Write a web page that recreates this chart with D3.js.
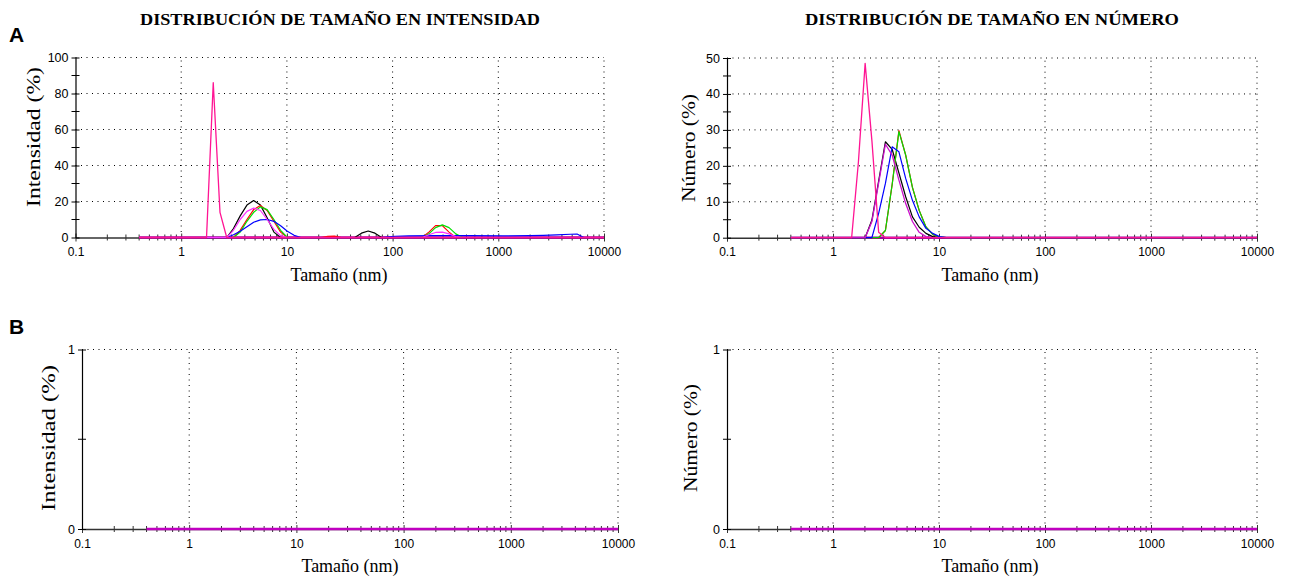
<!DOCTYPE html>
<html><head><meta charset="utf-8">
<script src="https://cdn.jsdelivr.net/npm/d3@7"></script>
<style>
html,body{margin:0;padding:0;background:#fff;}
svg{display:block;}
</style></head>
<body>
<svg id="c" width="1291" height="576"></svg>
<script>
// ---------- DATA ----------
const xTickValues = [0.1, 1, 10, 100, 1000, 10000];
const xTickLabels = ["0.1", "1", "10", "100", "1000", "10000"];

const intensityYMajor = [0, 20, 40, 60, 80, 100];
const intensityYMinor = [10, 30, 50, 70, 90];
const numberYMajor = [0, 10, 20, 30, 40, 50];
const numberYMinor = [5, 15, 25, 35, 45];
const emptyYMajor = [0, 1];
const emptyYMinor = [0.5];

// Intensity distribution (size nm, %)
const intBaseline = [[0.4,0],[10000,0]];
const intBlack = [[0.4,0],[2.696,0],[3.122,5],[3.615,12],[4.187,18],[4.849,20.5],[5.615,18],[6.503,11],[7.531,3],[8.721,0],[43.82,0],[50.75,2.4],[58.77,3.6],[68.06,2.4],[78.82,0],[10000,0]];
const intRed = [[0.4,0],[3.122,0],[3.615,4],[4.187,10],[4.849,15.5],[5.615,17.8],[6.503,15],[7.531,9],[8.721,3],[10.1,0],[21.04,0],[24.36,0.6],[28.21,0.8],[32.67,0],[190.1,0],[220.2,3],[255,6.6],[295.3,6.6],[342,3],[396.1,0],[10000,0]];
const intGreen = [[0.4,0],[3.122,0],[3.615,3],[4.187,9],[4.849,14],[5.615,17],[6.503,15.5],[7.531,10],[8.721,4],[10.1,0],[190.1,0],[220.2,2],[255,5.5],[295.3,7],[342,5.5],[396.1,2],[458.7,0],[10000,0]];
const intBlue = [[0.4,0],[2.696,0],[3.122,1.5],[3.615,3.5],[4.187,6],[4.849,8.5],[5.615,9.8],[6.503,10],[7.531,9],[8.721,6.5],[10.1,3.5],[11.7,1.2],[13.54,0],[78.82,0],[91.28,0.4],[105.7,0.7],[141.8,0.9],[255,1],[531.2,1],[1106,0.9],[1990,1],[2669,1.2],[3580,1.5],[4801,1.8],[5560,1.9],[6439,0],[10000,0]];
const intMagenta = [[0.4,0],[2.696,0],[3.122,4],[3.615,10],[4.187,14.5],[4.849,16.3],[5.615,15],[6.503,10],[7.531,4.5],[8.721,1],[10.1,0],[190.1,0],[220.2,1.5],[255,2.8],[295.3,3],[342,2],[396.1,0.5],[458.7,0],[10000,0]];
const intPink = [[0.4,0],[1.736,0],[2.01,86],[2.328,14],[2.696,0],[10000,0]];

// Number distribution (size nm, %)
const numBaseline = [[0.4,0],[10000,0]];
const numBlack = [[0.4,0],[2.01,0],[2.328,4.9],[3.122,26.7],[3.615,24.6],[4.187,18],[4.849,11.4],[5.615,5.8],[6.503,2.9],[7.531,1.2],[8.721,0.3],[10.1,0],[10000,0]];
const numRed = [[0.4,0],[2.696,0],[3.122,2],[3.615,14.8],[4.187,29.8],[4.849,23],[5.615,14],[6.503,7.6],[7.531,3],[8.721,0.9],[10.1,0.2],[11.7,0],[10000,0]];
const numGreen = [[0.4,0],[2.696,0],[3.122,2],[3.615,14.8],[4.187,29.5],[4.849,23],[5.615,14],[6.503,7.6],[7.531,3],[8.721,0.9],[10.1,0.2],[11.7,0],[10000,0]];
const numBlue = [[0.4,0],[2.328,0],[2.696,6.8],[3.122,15.1],[3.615,25.3],[4.187,23.9],[4.849,16.5],[5.615,10.4],[6.503,5.8],[7.531,2.6],[8.721,1.2],[10.1,0.3],[11.7,0],[10000,0]];
const numMagenta = [[0.4,0],[2.01,0],[2.328,4.5],[3.122,26],[3.615,23],[4.187,16],[4.849,9.5],[5.615,4.5],[6.503,1.5],[7.531,0.3],[8.721,0],[10000,0]];
const numPink = [[0.4,0],[1.499,0],[1.736,21],[2.01,48.5],[2.328,27],[2.696,1.5],[3.122,0],[10000,0]];

// Empty (panel B)
const emptyBaseline = [[0.4,0],[10000,0]];

const titles = ["DISTRIBUCIÓN DE TAMAÑO EN INTENSIDAD", "DISTRIBUCIÓN DE TAMAÑO EN NÚMERO"];
const yLabels = ["Intensidad (%)", "Número (%)"];
const xLabel = "Tamaño (nm)";
const panelLetters = ["A", "B"];

// ---------- DRAW ----------
const svg = d3.select("#c");
const SERIF = "'Liberation Serif','Times New Roman',serif";
const SANS = "'Liberation Sans',Arial,sans-serif";

function series(arr, color, width) { return {data: arr, color, width}; }

const panels = [
  {L:75.5, R:604, B:237.5, T:57.5, ymax:100, major:intensityYMajor, minor:intensityYMinor, ylab:yLabels[0], ylx:33, yly:137, ylen:140, xlx:339, xly:281,
   series:[series(intBaseline,"#a000a0",2.5), series(intBlack,"#000",1.2), series(intRed,"#ff0000",1.2), series(intGreen,"#00e000",1.2), series(intBlue,"#0000ff",1.2), series(intMagenta,"#ff30ff",1.2), series(intPink,"#ff1493",1.3)]},
  {L:727, R:1257, B:237.7, T:58, ymax:50, major:numberYMajor, minor:numberYMinor, ylab:yLabels[1], ylx:688, yly:148, ylen:108, xlx:990, xly:281,
   series:[series(numBaseline,"#a000a0",2.5), series(numBlack,"#000",1.2), series(numRed,"#ff0000",1.2), series(numGreen,"#00dd00",1.2), series(numBlue,"#0000ff",1.2), series(numMagenta,"#cc10cc",1.3), series(numPink,"#ff1493",1.3)]},
  {L:82, R:618, B:529, T:349.5, ymax:1, major:emptyYMajor, minor:emptyYMinor, ylab:yLabels[0], ylx:48, yly:438, ylen:146, xlx:350, xly:572,
   series:[series(emptyBaseline,"#c000c0",2.5)]},
  {L:727, R:1257, B:529, T:349.5, ymax:1, major:emptyYMajor, minor:emptyYMinor, ylab:yLabels[1], ylx:690, yly:438, ylen:108, xlx:990, xly:572,
   series:[series(emptyBaseline,"#c000c0",2.5)]}
];

const minorX = [];
[0.1, 1, 10, 100, 1000].forEach(d => { for (let k = 2; k <= 9; k++) minorX.push(+(d*k).toPrecision(3)); });

panels.forEach(p => {
  const x = d3.scaleLog().domain([0.1, 10000]).range([p.L, p.R]);
  const y = d3.scaleLinear().domain([0, p.ymax]).range([p.B, p.T]);
  const g = svg.append("g");

  // grid
  g.selectAll(".hg").data(p.major.filter(v => v > 0)).join("line")
    .attr("x1", p.L).attr("x2", p.R).attr("y1", d => y(d)).attr("y2", d => y(d))
    .attr("stroke", "#000").attr("stroke-width", 1).attr("stroke-dasharray", "1,4.5");
  g.selectAll(".vg").data(xTickValues.filter(v => v > 0.1)).join("line")
    .attr("x1", d => x(d)).attr("x2", d => x(d)).attr("y1", p.B).attr("y2", p.T)
    .attr("stroke", "#000").attr("stroke-width", 1).attr("stroke-dasharray", "1,4.5");

  // x axis
  const xAxis = d3.axisBottom(x).tickValues(xTickValues).tickFormat((d, i) => xTickLabels[i]).tickSizeInner(4).tickSizeOuter(0).tickPadding(6);
  const xa = g.append("g").attr("transform", `translate(0,${p.B})`).call(xAxis);
  xa.select(".domain").attr("stroke", "#333").attr("stroke-width", 1.5);
  xa.selectAll(".tick line").attr("y1", -4).attr("y2", 4).attr("stroke", "#333");
  xa.selectAll("text").attr("font-family", SANS).attr("font-size", 12).attr("fill", "#000");
  g.selectAll(".mx").data(minorX).join("line")
    .attr("x1", d => x(d)).attr("x2", d => x(d)).attr("y1", p.B - 3).attr("y2", p.B + 3)
    .attr("stroke", "#333").attr("stroke-width", 1);

  // y axis
  const yAxis = d3.axisLeft(y).tickValues(p.major).tickFormat(d3.format("d")).tickSizeInner(4).tickSizeOuter(0).tickPadding(3);
  const ya = g.append("g").attr("transform", `translate(${p.L},0)`).call(yAxis);
  ya.select(".domain").attr("stroke", "#000").attr("stroke-width", 1.2);
  ya.selectAll(".tick line").attr("x1", -4).attr("x2", 4).attr("stroke", "#000");
  ya.selectAll("text").attr("font-family", SANS).attr("font-size", 12.5).attr("fill", "#000");
  g.selectAll(".my").data(p.minor).join("line")
    .attr("x1", p.L - 4).attr("x2", p.L + 4).attr("y1", d => y(d)).attr("y2", d => y(d))
    .attr("stroke", "#000").attr("stroke-width", 1);

  // series
  const line = d3.line().x(d => x(d[0])).y(d => y(d[1]));
  p.series.forEach(s => {
    g.append("path").attr("d", line(s.data)).attr("fill", "none")
      .attr("stroke", s.color).attr("stroke-width", s.width).attr("stroke-linejoin", "round");
  });

  // labels
  g.append("text").attr("transform", `translate(${p.ylx},${p.yly}) rotate(-90)`)
    .attr("text-anchor", "middle").attr("dominant-baseline", "central")
    .attr("font-family", SERIF).attr("font-size", 19)
    .attr("textLength", p.ylen).attr("lengthAdjust", "spacingAndGlyphs")
    .text(p.ylab);
  g.append("text").attr("x", p.xlx).attr("y", p.xly).attr("text-anchor", "middle")
    .attr("font-family", SERIF).attr("font-size", 18).text(xLabel);
});

svg.append("text").attr("x", 340).attr("y", 25).attr("text-anchor", "middle")
  .attr("font-family", SERIF).attr("font-weight", "bold").attr("font-size", 17)
  .attr("textLength", 400).attr("lengthAdjust", "spacingAndGlyphs").text(titles[0]);
svg.append("text").attr("x", 992).attr("y", 25).attr("text-anchor", "middle")
  .attr("font-family", SERIF).attr("font-weight", "bold").attr("font-size", 17)
  .attr("textLength", 374).attr("lengthAdjust", "spacingAndGlyphs").text(titles[1]);
svg.append("text").attr("x", 9).attr("y", 42).attr("font-family", SANS).attr("font-weight", "bold").attr("font-size", 21).text(panelLetters[0]);
svg.append("text").attr("x", 9).attr("y", 334).attr("font-family", SANS).attr("font-weight", "bold").attr("font-size", 21).text(panelLetters[1]);
</script>
</body></html>
